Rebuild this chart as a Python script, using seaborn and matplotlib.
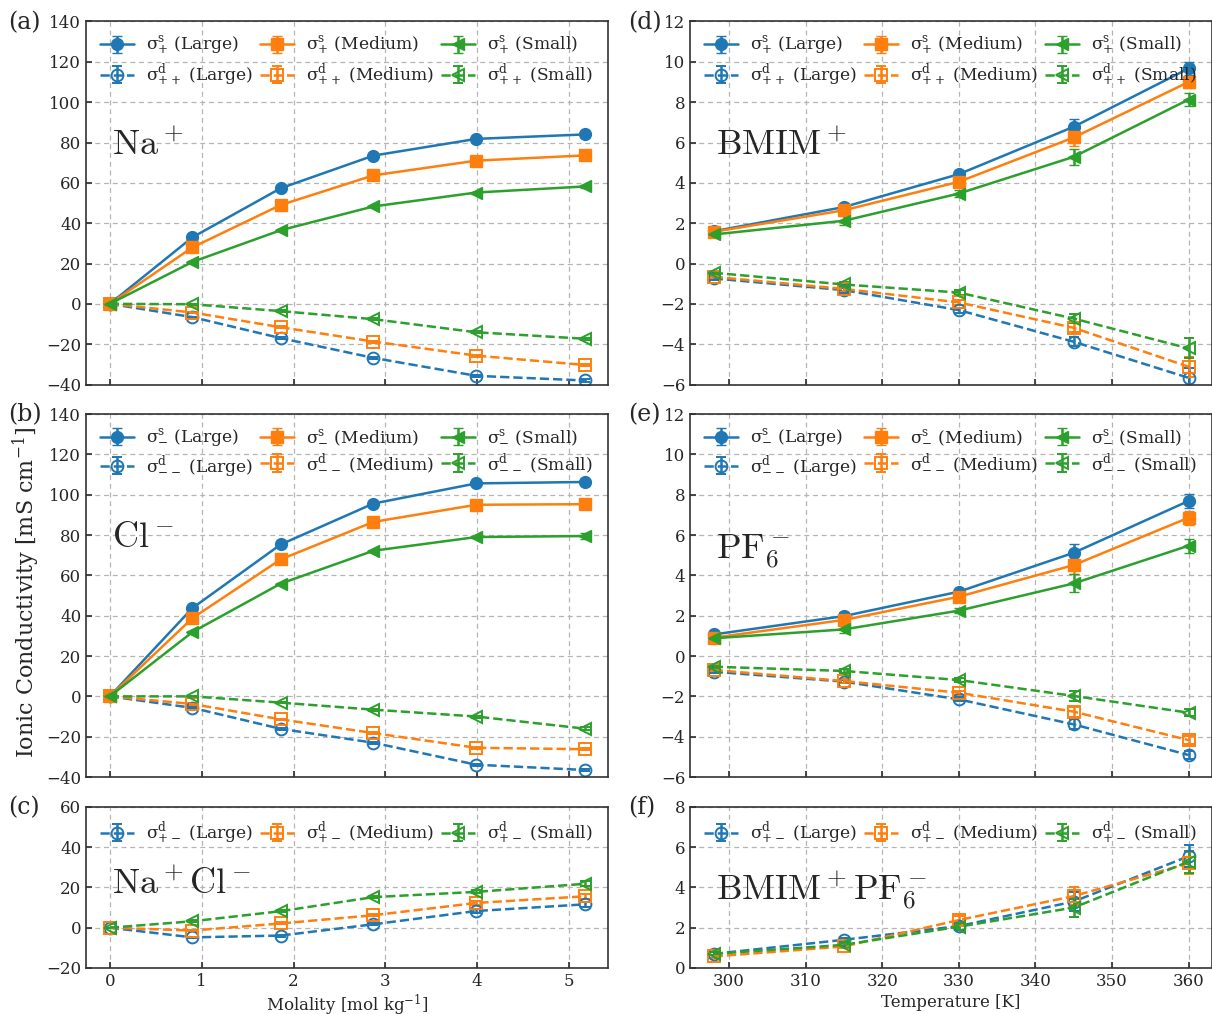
import matplotlib
matplotlib.use('Agg')
import matplotlib.pyplot as plt
import seaborn as sns

MOLALITY = [0, 0.90, 1.86, 2.87, 3.99, 5.17]
TEMPERATURE = [298, 315, 330, 345, 360]
SIZES = ['Large', 'Medium', 'Small']

# (a) Na+  self / distinct
na_self_large = [0, 33.0, 57.3, 73.5, 81.8, 84.0]
na_self_medium = [0, 28.0, 49.0, 63.7, 71.0, 73.6]
na_self_small = [0, 20.8, 36.5, 48.3, 55.2, 58.2]
na_dist_large = [0, -6.6, -17.0, -26.8, -35.7, -38.0]
na_dist_medium = [0, -4.3, -11.6, -18.7, -25.7, -30.3]
na_dist_small = [0, -0.2, -3.6, -7.6, -14.1, -17.3]
na_self_err = [0, 0.3, 0.4, 0.4, 0.5, 0.6]
na_dist_err = [0, 0.3, 0.4, 0.5, 0.5, 0.6]

# (b) Cl-
cl_self_large = [0, 43.8, 75.3, 95.6, 105.6, 106.3]
cl_self_medium = [0, 38.8, 67.9, 86.5, 95.0, 95.3]
cl_self_small = [0, 31.9, 55.9, 72.2, 79.0, 79.5]
cl_dist_large = [0, -5.7, -16.1, -23.0, -33.9, -36.5]
cl_dist_medium = [0, -3.8, -11.4, -18.2, -25.5, -26.2]
cl_dist_small = [0, 0.0, -3.1, -6.6, -10.0, -16.0]
cl_self_err = [0, 0.3, 0.4, 0.5, 0.6, 1.6]
cl_dist_err = [0, 0.3, 0.4, 0.5, 0.5, 0.6]

# (c) Na+Cl-
nacl_dist_large = [0, -4.8, -3.9, 1.7, 8.3, 11.6]
nacl_dist_medium = [0, -1.4, 2.1, 6.2, 12.3, 15.6]
nacl_dist_small = [0, 3.2, 8.2, 15.2, 17.8, 21.8]
nacl_dist_err = [0, 0.4, 0.5, 0.6, 0.8, 1.2]

# (d) BMIM+
bmim_self_large = [1.60, 2.80, 4.43, 6.78, 9.67]
bmim_self_medium = [1.57, 2.64, 4.05, 6.25, 9.00]
bmim_self_small = [1.44, 2.12, 3.47, 5.29, 8.13]
bmim_dist_large = [-0.74, -1.32, -2.31, -3.88, -5.67]
bmim_dist_medium = [-0.66, -1.26, -1.93, -3.19, -5.12]
bmim_dist_small = [-0.46, -1.04, -1.44, -2.73, -4.21]
bmim_self_err = [0.08, 0.22, 0.18, 0.40, 0.30]
bmim_dist_err = [0.06, 0.12, 0.12, 0.22, 0.50]

# (e) PF6-
pf6_self_large = [1.07, 1.98, 3.19, 5.12, 7.69]
pf6_self_medium = [0.91, 1.79, 2.94, 4.51, 6.86]
pf6_self_small = [0.88, 1.32, 2.25, 3.60, 5.47]
pf6_dist_large = [-0.78, -1.27, -2.15, -3.39, -4.91]
pf6_dist_medium = [-0.69, -1.24, -1.82, -2.76, -4.17]
pf6_dist_small = [-0.53, -0.74, -1.19, -1.98, -2.81]
pf6_self_err = [0.06, 0.18, 0.14, 0.45, 0.35]
pf6_dist_err = [0.05, 0.08, 0.10, 0.25, 0.18]

# (f) BMIM+PF6-
il_dist_large = [0.70, 1.40, 2.08, 3.30, 5.55]
il_dist_medium = [0.57, 1.07, 2.38, 3.57, 5.20]
il_dist_small = [0.70, 1.15, 2.05, 3.00, 5.28]
il_dist_err = [0.08, 0.10, 0.18, 0.45, 0.55]

sns.set_theme(style='ticks')
plt.rcParams['font.family'] = ['DejaVu Serif']
plt.rcParams['mathtext.fontset'] = 'dejavuserif'
plt.rcParams['axes.edgecolor'] = '#333333'
plt.rcParams['axes.linewidth'] = 1.2

colors = sns.color_palette('tab10')[:3]
markers = ['o', 's', '<']


def draw(ax, x, selfs, dists, err_s, err_d, sub_s, sub_d):
    for i, size in enumerate(SIZES):
        if selfs is not None:
            ax.errorbar(x, selfs[i], yerr=err_s, color=colors[i], marker=markers[i],
                        ms=8.5, lw=1.8, capsize=3.5, ls='-', zorder=3,
                        label='σ$^{\\rm s}_{%s}$ (%s)' % (sub_s, size))
        ax.errorbar(x, dists[i], yerr=err_d, color=colors[i], marker=markers[i],
                    ms=8.5, lw=1.8, capsize=3.5, ls='--', mfc='none', mew=1.4, zorder=2,
                    label='σ$^{\\rm d}_{%s}$ (%s)' % (sub_d, size))
    ax.grid(True, ls=(0, (4, 3)), color='#b5b5b5', lw=0.9)
    ax.tick_params(direction='in', labelsize=12, length=4, color='#333333')
    ax.legend(ncol=3, loc='upper left', fontsize=12.3, frameon=False, handlelength=2.0,
              columnspacing=0.4, handletextpad=0.7, borderaxespad=0.4,
              labelspacing=0.3)


fig = plt.figure(figsize=(12.12, 10.14), dpi=100)
L, R, W = 0.071, 0.5693, 0.431
ax_a = fig.add_axes([L, 0.6208, W, 0.358])
ax_b = fig.add_axes([L, 0.2337, W, 0.358])
ax_c = fig.add_axes([L, 0.0454, W, 0.1588])
ax_d = fig.add_axes([R, 0.6208, W, 0.358])
ax_e = fig.add_axes([R, 0.2337, W, 0.358])
ax_f = fig.add_axes([R, 0.0454, W, 0.1588])

draw(ax_a, MOLALITY, [na_self_large, na_self_medium, na_self_small],
     [na_dist_large, na_dist_medium, na_dist_small], na_self_err, na_dist_err, '+', '++')
draw(ax_b, MOLALITY, [cl_self_large, cl_self_medium, cl_self_small],
     [cl_dist_large, cl_dist_medium, cl_dist_small], cl_self_err, cl_dist_err, '-', '--')
draw(ax_c, MOLALITY, None, [nacl_dist_large, nacl_dist_medium, nacl_dist_small],
     None, nacl_dist_err, None, '+-')
draw(ax_d, TEMPERATURE, [bmim_self_large, bmim_self_medium, bmim_self_small],
     [bmim_dist_large, bmim_dist_medium, bmim_dist_small], bmim_self_err, bmim_dist_err, '+', '++')
draw(ax_e, TEMPERATURE, [pf6_self_large, pf6_self_medium, pf6_self_small],
     [pf6_dist_large, pf6_dist_medium, pf6_dist_small], pf6_self_err, pf6_dist_err, '-', '--')
draw(ax_f, TEMPERATURE, None, [il_dist_large, il_dist_medium, il_dist_small],
     None, il_dist_err, None, '+-')

for ax in (ax_a, ax_b, ax_c):
    ax.set_xticks(range(0, 6))
for ax in (ax_d, ax_e, ax_f):
    ax.set_xticks(range(300, 361, 10))
for ax in (ax_a, ax_b):
    ax.set_ylim(-40, 140)
    ax.set_yticks(range(-40, 141, 20))
ax_c.set_ylim(-20, 60)
ax_c.set_yticks(range(-20, 61, 20))
for ax in (ax_d, ax_e):
    ax.set_ylim(-6, 12)
    ax.set_yticks(range(-6, 13, 2))
ax_f.set_ylim(0, 8)
ax_f.set_yticks(range(0, 9, 2))
for ax in (ax_a, ax_b, ax_d, ax_e):
    ax.tick_params(labelbottom=False)

ax_c.set_xlabel('Molality [mol kg$^{-1}$]', fontsize=12, labelpad=2)
ax_f.set_xlabel('Temperature [K]', fontsize=12, labelpad=3)
fig.text(0.022, 0.416, 'Ionic Conductivity [mS cm$^{-1}$]', rotation=90,
         ha='center', va='center', fontsize=16)

species = [(ax_a, r'$\mathrm{Na}^+$', 0.66), (ax_b, r'$\mathrm{Cl}^-$', 0.66),
           (ax_c, r'$\mathrm{Na}^+\mathrm{Cl}^-$', 0.52), (ax_d, r'$\mathrm{BMIM}^+$', 0.66),
           (ax_e, r'$\mathrm{PF}_6^-$', 0.62), (ax_f, r'$\mathrm{BMIM}^+\mathrm{PF}_6^-$', 0.48)]
for ax, txt, yy in species:
    ax.text(0.05, yy, txt, transform=ax.transAxes, fontsize=26, va='center',
            ha='left', math_fontfamily='cm')

for ax, lab in zip((ax_a, ax_b, ax_c, ax_d, ax_e, ax_f), 'abcdef'):
    pos = ax.get_position()
    off = 0.064 if pos.x0 < 0.5 else 0.051
    fig.text(pos.x0 - off, pos.y1 - 0.001, '(%s)' % lab, fontsize=17, va='center', ha='left')

fig.savefig('out.png', dpi=100)
